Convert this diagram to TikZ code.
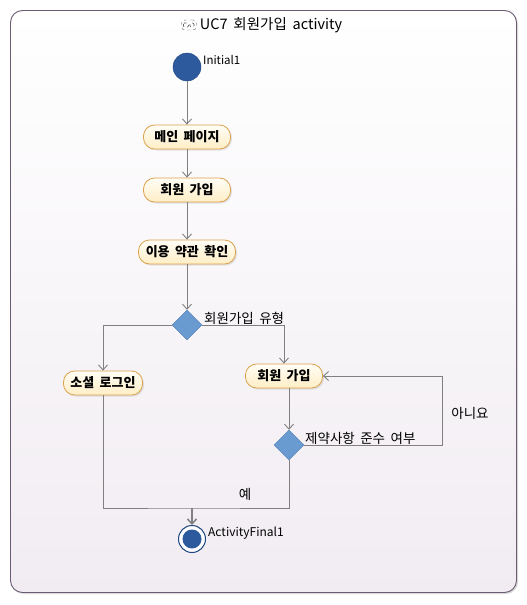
\documentclass[tikz,border=0pt]{standalone}
\usepackage{fontspec}
\setmainfont[WordSpace=1.8]{Noto Sans CJK KR}
\usetikzlibrary{arrows.meta,shapes.geometric,positioning,calc,shadows}
\definecolor{framec}{HTML}{6B5B72}
\definecolor{framebot}{HTML}{F1ECF2}
\definecolor{initc}{HTML}{2D5A9C}
\definecolor{initd}{HTML}{1F4580}
\definecolor{decfill}{HTML}{6A9BD0}
\definecolor{decborder}{HTML}{4A78B0}
\definecolor{actborder}{HTML}{DCA24E}
\definecolor{acttop}{HTML}{FFFDF6}
\definecolor{actbot}{HTML}{FFEEC6}
\definecolor{linec}{HTML}{808080}

\begin{document}
\begin{tikzpicture}[x=1pt, y=-1pt,
    act/.style={draw=actborder, line width=0.8pt, rounded corners=11pt, top color=acttop, bottom color=actbot, minimum height=24pt, inner xsep=5pt, inner ysep=0pt, font=\fontsize{13}{15}\selectfont\bfseries, drop shadow={opacity=0.2, shadow xshift=1.5pt, shadow yshift=-1.5pt}},
    dec/.style={diamond, draw=decborder, fill=decfill, inner sep=0pt, minimum width=30pt, minimum height=30pt},
    lbl/.style={font=\fontsize{13.5}{15}\selectfont, anchor=west, inner sep=0pt},
    tag/.style={font=\fontsize{11.5}{13}\selectfont, anchor=west, inner sep=0pt},
    flow/.style={draw=linec, line width=0.9pt},
    arr/.style={flow, -{Straight Barb[length=5pt, width=9pt]}}
]
\useasboundingbox (0,0) rectangle (527,605);
\draw[framec, line width=0.9pt, rounded corners=12pt, top color=white, bottom color=framebot, drop shadow={opacity=0.3, shadow xshift=1.5pt, shadow yshift=-1.5pt}] (10.5,10.5) rectangle (516.5,592.5);

% title
\node[font=\fontsize{14.5}{16}\selectfont, inner sep=0pt] (title) at (271,25) {UC7 회원가입 activity};
\node[draw=linec!80!black, dashed, rounded corners=3.5pt, minimum width=15pt, minimum height=10pt, inner sep=0pt, left=3pt of title,
    path picture={\draw[linec!80!black, line width=0.7pt, rounded corners=1pt] ($(path picture bounding box.center)+(-5.5,-2)$) rectangle ($(path picture bounding box.center)+(-0.5,2)$) ($(path picture bounding box.center)+(3,0)$) circle (2.2pt);}] (icon) {};

% nodes
\node[circle, fill=initc, draw=initd, minimum size=28pt, inner sep=0pt] (init) at (187,67) {};
\node[tag] (initlbl) at (203,60) {Initial1};
\node[act, minimum width=87pt] (main) at (187,137) {메인 페이지};
\node[act, minimum width=87pt] (join) at (187,190) {회원 가입};
\node[act, minimum width=97pt] (terms) at (187,252) {이용 약관 확인};
\node[dec] (type) at (187,325) {};
\node[lbl] (typelbl) at (204,318) {회원가입 유형};
\node[act, minimum width=79pt] (social) at (103,383) {소셜 로그인};
\node[act, minimum width=77pt] (join2) at (284,376) {회원 가입};
\node[dec] (check) at (289,445) {};
\node[lbl] (checklbl) at (305,438) {제약사항 준수 여부};
\node[circle, draw=initd, line width=1pt, fill=white, minimum size=27pt, inner sep=0pt,
    path picture={\fill[initc] (path picture bounding box.center) circle (9.5pt);}] (final) at (192,539) {};
\node[tag, font=\fontsize{12}{14}\selectfont] (finallbl) at (208,533) {ActivityFinal1};
\coordinate (merge) at (192,508);
\coordinate (loop) at (442,446);
\node[lbl, anchor=center] (nolbl) at (470,413) {아니요};
\node[lbl, anchor=center] (yeslbl) at (245,494) {예};

% edges
\draw[arr] (init) -- (main);
\draw[arr] (main) -- (join);
\draw[arr] (join) -- (terms);
\draw[arr] (terms) -- (type);
\draw[arr] (type.west) -| (social.north);
\draw[arr] (type.east) -| (join2.north);
\draw[arr] (join2.south -| check) -- (check.north);
\draw[arr] (check.east) -| (loop |- join2.east) -- (join2.east);
\draw[flow] (social.south) |- (merge) -| (check.south);
\draw[arr, line width=1.5pt] (merge) -- (final);
\end{tikzpicture}
\end{document}
